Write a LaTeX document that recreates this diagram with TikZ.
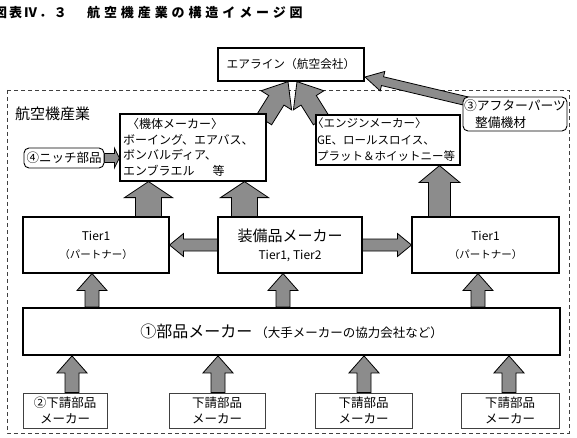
\documentclass[tikz,border=0pt]{standalone}
\usepackage{fontspec}
\setmainfont{Noto Sans CJK JP}
\newfontfamily\titlefont[LetterSpace=30]{Noto Sans CJK JP}
\newfontfamily\figfont[LetterSpace=15]{Noto Sans CJK JP}
\usetikzlibrary{calc}
\pgfdeclarelayer{back}
\pgfsetlayers{back,main}

\tikzset{
  box/.style={draw, fill=white, line width=1.2pt, inner sep=0pt, align=center},
  roundbox/.style={box, line width=0.9pt, rounded corners=5pt},
  subbox/.style={draw=black!75, fill=white, line width=0.8pt, inner sep=0pt, align=center,
    minimum height=35, font=\fontsize{12.5}{16}\selectfont},
  titletext/.style={anchor=west, inner sep=0pt, font=\titlefont\bfseries\fontsize{13}{15}\selectfont},
  blockarrow/.style={fill=black!45, draw=black, line width=0.8pt, line join=miter},
  region/.style={draw=black!75, line width=0.9pt, dash pattern=on 4pt off 3pt},
}

% #1 from, #2 to, #3 half shaft, #4 half head, #5 head length
\newcommand{\bigarrow}[5]{%
  \filldraw[blockarrow] ($(#1)!#3!90:(#2)$)
    -- ($(#2)!#5!(#1)!#3!90:(#2)$) -- ($(#2)!#5!(#1)!#4!90:(#2)$)
    -- (#2)
    -- ($(#2)!#5!(#1)!#4!-90:(#2)$) -- ($(#2)!#5!(#1)!#3!-90:(#2)$)
    -- ($(#1)!#3!-90:(#2)$) -- cycle;
}

\begin{document}
\begin{tikzpicture}[x=1pt,y=-1pt]
\useasboundingbox (0,0) rectangle (577,438);

\node[titletext, font=\figfont\bfseries\fontsize{13}{15}\selectfont] (fig) at (-6,13) {図表Ⅳ．３};
\node[titletext] (title) at (87,13) {航空機産業の構造イメージ図};

\node[box, line width=1.3pt, minimum width=146, minimum height=33,
  font=\fontsize{11.7}{14}\selectfont] (air) at (291,64.5) {エアライン（航空会社）};
\node[anchor=west, inner sep=0pt, font=\fontsize{15}{18}\selectfont] (ind) at (15,114) {航空機産業};

\node[box, minimum width=146, minimum height=67, text width=140pt, inner xsep=3pt, align=left,
  font=\fontsize{12}{15.7}\selectfont] (frame) at (193,147.5)
  {\hspace*{4pt}〈機体メーカー〉\\ボーイング、エアバス、\\ボンバルディア、\\エンブラエル\hspace{18pt}等};
\node[box, minimum width=144, minimum height=50, text width=142pt, inner xsep=1pt, align=left,
  font=\fontsize{11.5}{16.5}\selectfont] (engine) at (388,140)
  {\hspace*{-5pt}〈エンジンメーカー〉\\GE、ロールスロイス、\\プラット＆ホイットニー等};
\node[roundbox, minimum width=104, minimum height=34, text width=102pt, inner xsep=1pt, align=left,
  font=\fontsize{12.8}{17}\selectfont] (after) at (515,114) {③アフターパーツ\\\hspace*{11pt}整備機材};
\node[roundbox, minimum width=80, minimum height=20,
  font=\fontsize{12.5}{14}\selectfont] (niche) at (64,158) {④ニッチ部品};

\node[box, line width=1.1pt, minimum width=146, minimum height=56, font=\fontsize{12}{18}\selectfont] (t1l)
  at (96,245) {Tier1\\{\fontsize{10.5}{18}\selectfont（パートナー）}};
\node[box, line width=1.1pt, minimum width=144, minimum height=56, font=\fontsize{12}{18}\selectfont] (equip)
  at (290,245) {{\fontsize{15}{18}\selectfont 装備品メーカー}\\Tier1, Tier2};
\node[box, line width=1.1pt, minimum width=147, minimum height=56, font=\fontsize{12}{18}\selectfont] (t1r)
  at (485.5,245) {Tier1\\{\fontsize{10.5}{18}\selectfont（パートナー）}};

\node[box, line width=1.8pt, minimum width=537, minimum height=47] (parts) at (291.5,331.5)
  {{\fontsize{16}{18}\selectfont ①部品メーカー}\hspace{3pt}{\fontsize{12.5}{18}\selectfont（大手メーカーの協力会社など）}};

\foreach \n/\x/\w/\t in {1/65/84/②下請部品, 2/217/96/下請部品, 3/363.5/97/下請部品, 4/510/98/下請部品}
{
  \node[subbox, minimum width=\w] (sub\n) at (\x,410.5) {\t\\メーカー};
}

\begin{pgfonlayer}{back}
\draw[region] (7,90) rectangle (569,433);

\coordinate (fa) at (264,120);
\coordinate (ea) at (321,120);
\coordinate (aa) at (470,102);
\coordinate (ta) at (365,77);
\bigarrow{fa}{air.south -| 288,0}{9pt}{18pt}{22pt}
\bigarrow{ea}{air.south -| 297,0}{9pt}{18pt}{22pt}
\bigarrow{aa}{ta}{4.5pt}{10pt}{18pt}
\bigarrow{niche.east}{frame.west |- niche.east}{4.5pt}{10pt}{5pt}

\bigarrow{t1l.north -| 148.5,0}{frame.south -| 148.5,0}{13pt}{24pt}{16pt}
\bigarrow{equip.north -| 244.5,0}{frame.south -| 244.5,0}{13pt}{24pt}{16pt}
\bigarrow{t1r.north -| 439.5,0}{engine.south -| 439.5,0}{11pt}{20.5pt}{17pt}

\bigarrow{equip.west}{t1l.east}{6pt}{11.5pt}{14pt}
\bigarrow{equip.east}{t1r.west}{6pt}{11.5pt}{14pt}

\foreach \x/\b in {92/t1l, 283/equip, 478/t1r}
{
  \bigarrow{parts.north -| \x,0}{\b.south -| \x,0}{7pt}{15pt}{17pt}
}
\foreach \n/\x in {1/72, 2/218, 3/364, 4/509}
{
  \bigarrow{sub\n.north -| \x,0}{parts.south -| \x,0}{7pt}{15pt}{17pt}
}
\end{pgfonlayer}

\end{tikzpicture}
\end{document}
